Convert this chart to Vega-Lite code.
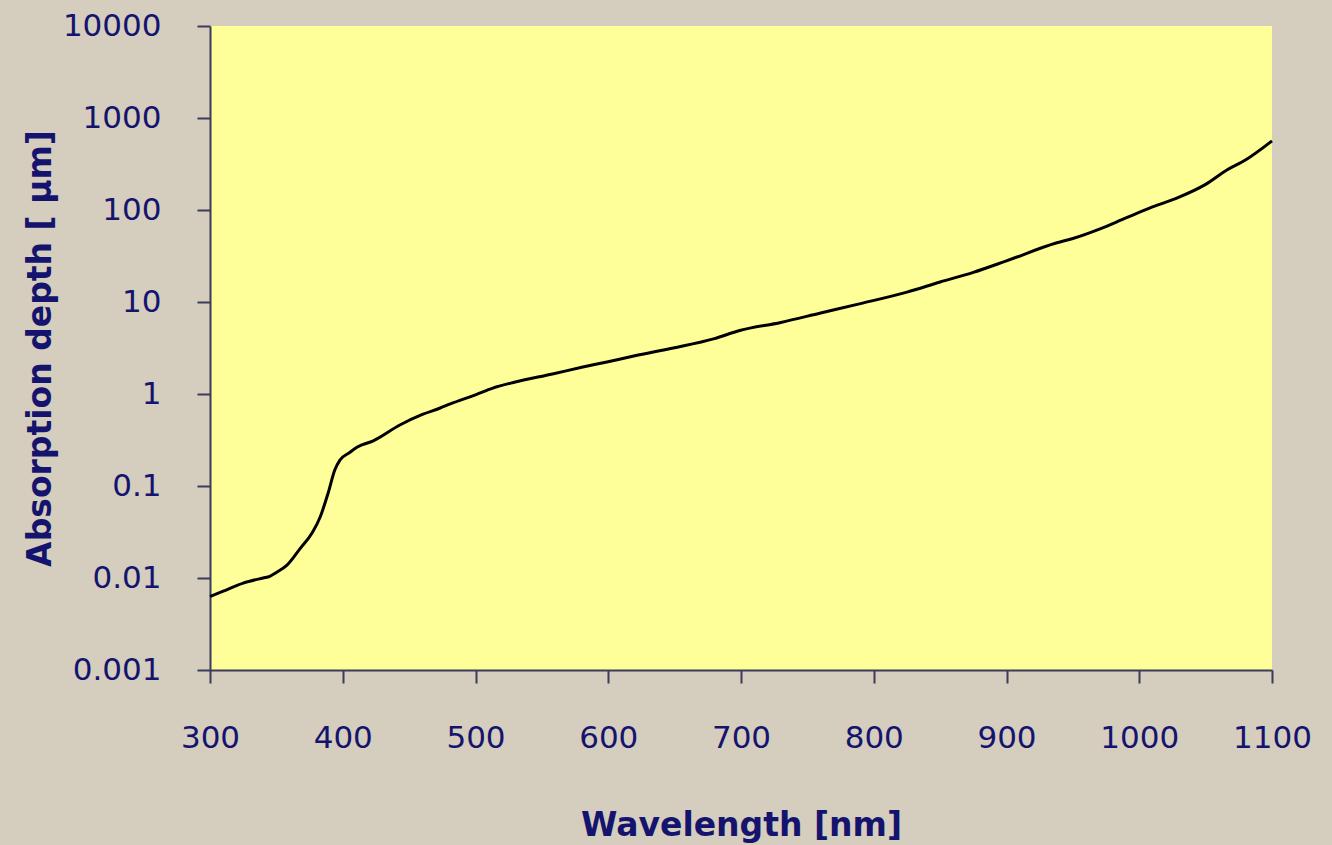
{
  "$schema": "https://vega.github.io/schema/vega-lite/v6.json",
  "autosize": "none",
  "width": 1062,
  "height": 644,
  "padding": {"left": 210, "top": 26, "right": 60, "bottom": 175},
  "background": "#d5cdbd",
  "config": {
    "view": {"fill": "#ffff99", "stroke": null},
    "font": "DejaVu Sans",
    "axis": {
      "grid": false,
      "domainColor": "#3b3b5c",
      "domainWidth": 2,
      "tickColor": "#3b3b5c",
      "tickWidth": 2,
      "tickSize": 13,
      "labelColor": "#14146e",
      "labelFont": "DejaVu Sans",
      "labelFontSize": 31,
      "labelOverlap": false,
      "labelFlush": false,
      "labelBound": false,
      "titleColor": "#14146e",
      "titleFont": "DejaVu Sans",
      "titleFontWeight": "bold",
      "titleFontSize": 33
    }
  },
  "data": {
    "values": [
      {"wavelength": 300, "depth": 0.0063},
      {"wavelength": 310, "depth": 0.0072},
      {"wavelength": 325, "depth": 0.0088},
      {"wavelength": 340, "depth": 0.0100},
      {"wavelength": 345, "depth": 0.0104},
      {"wavelength": 350, "depth": 0.0115},
      {"wavelength": 358, "depth": 0.0138},
      {"wavelength": 368, "depth": 0.021},
      {"wavelength": 377, "depth": 0.031},
      {"wavelength": 383, "depth": 0.046},
      {"wavelength": 389, "depth": 0.084},
      {"wavelength": 394, "depth": 0.149},
      {"wavelength": 398, "depth": 0.192},
      {"wavelength": 405, "depth": 0.23},
      {"wavelength": 411, "depth": 0.265},
      {"wavelength": 423, "depth": 0.31},
      {"wavelength": 443, "depth": 0.46},
      {"wavelength": 460, "depth": 0.6},
      {"wavelength": 473, "depth": 0.7},
      {"wavelength": 481, "depth": 0.78},
      {"wavelength": 500, "depth": 0.98},
      {"wavelength": 513, "depth": 1.16},
      {"wavelength": 530, "depth": 1.35},
      {"wavelength": 558, "depth": 1.65},
      {"wavelength": 580, "depth": 1.95},
      {"wavelength": 599, "depth": 2.23},
      {"wavelength": 620, "depth": 2.6},
      {"wavelength": 649, "depth": 3.16},
      {"wavelength": 680, "depth": 4.0},
      {"wavelength": 699, "depth": 4.9},
      {"wavelength": 730, "depth": 6.0},
      {"wavelength": 760, "depth": 7.6},
      {"wavelength": 790, "depth": 9.6},
      {"wavelength": 825, "depth": 12.8},
      {"wavelength": 850, "depth": 16.5},
      {"wavelength": 875, "depth": 21},
      {"wavelength": 900, "depth": 28},
      {"wavelength": 938, "depth": 44},
      {"wavelength": 950, "depth": 49},
      {"wavelength": 970, "depth": 62},
      {"wavelength": 990, "depth": 82},
      {"wavelength": 1010, "depth": 108},
      {"wavelength": 1030, "depth": 138},
      {"wavelength": 1050, "depth": 190},
      {"wavelength": 1066, "depth": 272},
      {"wavelength": 1080, "depth": 350},
      {"wavelength": 1100, "depth": 565}
    ]
  },
  "mark": {"type": "line", "color": "#000000", "strokeWidth": 3, "interpolate": "monotone"},
  "encoding": {
    "x": {
      "field": "wavelength",
      "type": "quantitative",
      "scale": {"domain": [300, 1100], "nice": false, "zero": false},
      "axis": {
        "values": [300, 400, 500, 600, 700, 800, 900, 1000, 1100],
        "format": "d",
        "title": "Wavelength [nm]",
        "labelPadding": 40,
        "titlePadding": 56
      }
    },
    "y": {
      "field": "depth",
      "type": "quantitative",
      "scale": {"type": "log", "domain": [0.001, 10000], "nice": false},
      "axis": {
        "values": [0.001, 0.01, 0.1, 1, 10, 100, 1000, 10000],
        "format": "~g",
        "title": "Absorption depth [ μm]",
        "labelPadding": 36,
        "titlePadding": 5
      }
    }
  }
}
